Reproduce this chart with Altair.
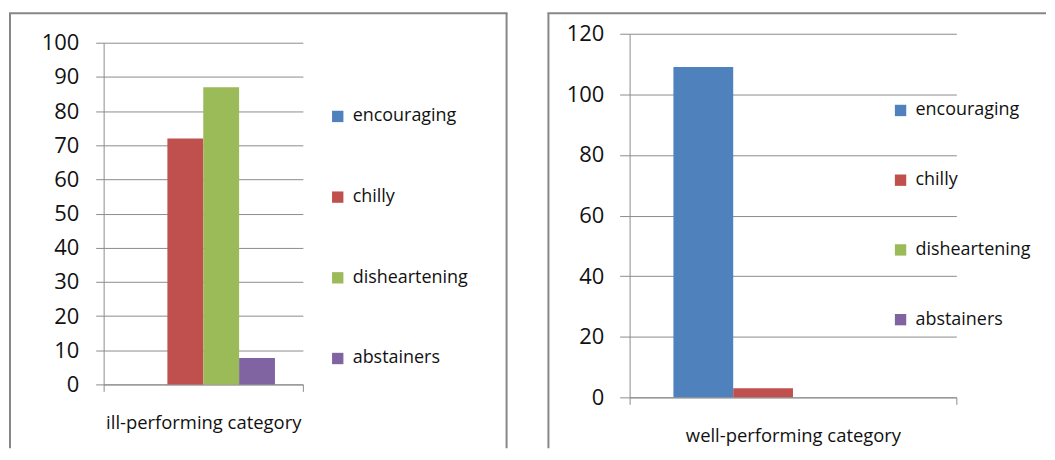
import altair as alt
import pandas as pd

# ---- data ----
series = ["encouraging", "chilly", "disheartening", "abstainers"]
colors = ["#4F81BD", "#C0504D", "#9BBB59", "#8064A2"]

ill_category = "ill-performing category"
ill_values = [0, 72, 87, 7.7]
ill_ticks = [0, 10, 20, 30, 40, 50, 60, 70, 80, 90, 100]

well_category = "well-performing category"
well_values = [109, 3, 0, 0]
well_ticks = [0, 20, 40, 60, 80, 100, 120]

FONT = "Open Sans"
GRID = "#8c8c8c"
FRAME = "#878787"
TEXT = "#111111"


def panel(category, values, ticks, ymax, w, h, yrange, tick_size, label_pad, pad_outer,
          leg_x, leg_y, row_pad, fx1, fx2, fy1, fy2, right_side):
    df = pd.DataFrame({"category": [category] * len(series), "series": series, "value": values})
    bars = alt.Chart(df).mark_bar().encode(
        x=alt.X("category:N", title=None,
                scale=alt.Scale(paddingInner=0, paddingOuter=0),
                axis=alt.Axis(labelAngle=0, tickBand="extent", grid=False,
                              domainColor=GRID, tickColor=GRID, tickSize=7,
                              labelFont=FONT, labelFontSize=18.5, labelColor=TEXT,
                              labelPadding=31, labelBaseline="middle", labelLimit=0)),
        xOffset=alt.XOffset("series:N", sort=series,
                            scale=alt.Scale(domain=series, paddingInner=0, paddingOuter=pad_outer)),
        y=alt.Y("value:Q", title=None,
                scale=alt.Scale(domain=[0, ymax], nice=False, range=yrange),
                axis=alt.Axis(values=ticks, grid=True, gridColor=GRID, domainColor=GRID,
                              tickColor=GRID, tickSize=tick_size, labelPadding=label_pad,
                              labelFont=FONT, labelFontSize=22, labelColor=TEXT)),
        color=alt.Color("series:N", sort=series,
                        scale=alt.Scale(domain=series, range=colors),
                        legend=alt.Legend(title=None, orient="none", legendX=leg_x, legendY=leg_y,
                                          direction="vertical", symbolType="square", symbolSize=130,
                                          symbolStrokeWidth=0, labelFont=FONT, labelFontSize=18,
                                          labelColor=TEXT, labelOffset=6, rowPadding=row_pad,
                                          padding=0, labelLimit=0)),
    )
    fdf = pd.DataFrame({"k": [0]})
    base = alt.Chart(fdf).mark_rule(color=FRAME, strokeWidth=2)
    layers = [
        bars,
        base.encode(x=alt.value(fx1 - 1), x2=alt.value(fx2 + 1), y=alt.value(fy1)),
        base.encode(x=alt.value(fx1), y=alt.value(fy1), y2=alt.value(fy2)),
    ]
    if right_side:
        layers.append(base.encode(x=alt.value(fx2), y=alt.value(fy1), y2=alt.value(fy2)))
    return alt.layer(*layers).properties(width=w, height=h)


# both panels share a view origin at the same height; the left one keeps 9px above its 100 line
left = panel(ill_category, ill_values, ill_ticks, 100, 200, 352, [352, 9], 8, 17, 0.778,
             226, 74, 63, -94, 404.5, -20.5, 416, True)
right = panel(well_category, well_values, well_ticks, 120, 328, 365, [365, 0], 10, 16, 0.733,
              263, 68, 52, -81.5, 417, -20.5, 416, False)

chart = alt.hconcat(left, right, spacing=37).resolve_scale(
    x="independent", y="independent", xOffset="independent", color="independent"
).resolve_legend(color="independent").properties(
    padding={"left": 0, "top": 3, "right": 0, "bottom": 0}
).configure_view(stroke=None)

chart.save("out.html", embed_options={"renderer": "svg", "actions": False})
